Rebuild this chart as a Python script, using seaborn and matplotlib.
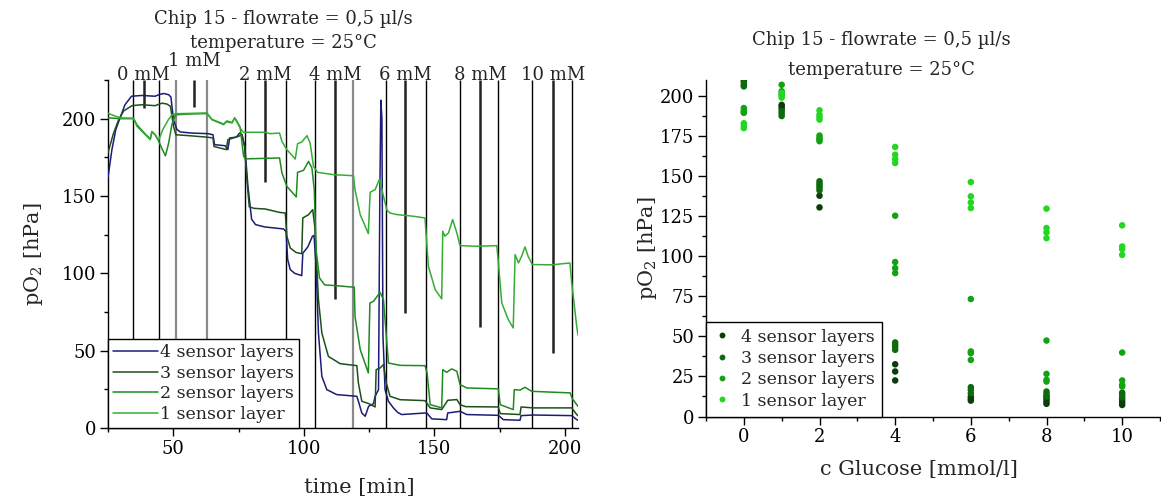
"""
Chip 15 oxygen traces over time and pO2 against glucose concentration.
"""
import matplotlib
matplotlib.use("Agg")
import matplotlib.pyplot as plt
from matplotlib.ticker import MultipleLocator
import pandas as pd
import seaborn as sns

sns.set_theme(style="ticks")
plt.rcParams["font.family"] = ["DejaVu Serif"]
plt.rcParams["mathtext.fontset"] = "dejavuserif"

# ---- left panel: pO2 traces (time in min, pO2 in hPa) ----
series_names = ["4 sensor layers", "3 sensor layers", "2 sensor layers", "1 sensor layer"]
line_colors = ["#1c1c78", "#1d4f1d", "#1f8a1f", "#35ad35"]

t_4 = [25, 26.5, 28, 29.5, 31.5, 34, 38, 43, 44.5, 46.3, 48.2, 49.1, 50.1, 51.4, 52.7, 57, 63.3,
       65.2, 65.8, 69.9, 70.9, 71.6, 74.2, 75.4, 76.3, 77.4, 78.6, 80, 81.5, 85, 92.2, 93.2, 93.8,
       94.8, 96.5, 99.2, 99.6, 101.5, 103.3, 103.9, 104.7, 105.6, 106.9, 108.8, 112.6, 120.3, 120.9,
       122.2, 123.5, 124.8, 126.7, 127.3, 128.6, 129.1, 129.5, 129.9, 130.3, 131.1, 132.4, 134.3,
       136, 137.5, 146.4, 147.2, 149, 154.7, 155.1, 159.8, 162.4, 174.5, 176.4, 182.8, 183.2, 187.9,
       202.6, 204.5, 205]
v_4 = [162, 180, 193, 200, 209, 214.5, 215, 214.5, 215.5, 216.3, 215.5, 214, 199, 193, 191.4, 190.7,
       190.3, 189.6, 183.2, 182.5, 180, 187.5, 188.1, 190.7, 189.6, 182, 156, 135, 131.5, 130, 128.7,
       127, 109, 102.4, 100, 98.5, 113, 117, 124, 124.5, 104.5, 61.4, 33.4, 24.8, 21.6, 20.5, 17.3,
       9.7, 7.6, 14, 15.8, 20.5, 24.8, 150, 212, 200, 60, 24.8, 17.3, 13, 10, 8.7, 9.7, 9.5, 5.9,
       5.4, 9.7, 10.8, 8.7, 8.2, 5.4, 5, 8, 8.4, 8, 5.4, 5]

t_3 = [25, 27, 29, 31, 34.2, 38, 43, 45.7, 47.5, 48.9, 50.1, 51, 56, 63.3, 65.2, 65.6, 70.3, 70.9,
       75, 76.3, 77.3, 78.2, 79.1, 81, 85.2, 90.7, 92.9, 93.5, 94.8, 97, 99.2, 99.6, 101.8, 103.4,
       104.2, 105.6, 106.9, 109.4, 113.9, 120.3, 120.9, 122.2, 124.8, 127.3, 127.7, 129.2, 130.5,
       131.6, 133, 136.9, 146.4, 148.4, 152.8, 155.1, 158.6, 159.8, 162, 174.5, 175.2, 182.8, 183.2,
       187.9, 202.6, 204.5, 205]
v_3 = [178, 190, 199, 205, 208.4, 209, 208.4, 210, 209.5, 208, 195, 189.6, 189, 188, 187.5, 182, 180,
       186.4, 188.6, 189.6, 182, 160.6, 143, 142, 141.6, 139.4, 139, 124, 116.4, 113.5, 112.7, 135.8,
       137.9, 141.2, 130, 83, 61.4, 46.3, 41.6, 40.3, 29, 17.3, 15.8, 13.6, 37.7, 38.8, 41, 29, 20.5,
       18.3, 17.7, 13, 11.9, 17.9, 18.4, 15.1, 13.8, 13.6, 9.3, 8.7, 13.6, 13, 13, 8.7, 8]

t_2 = [25, 30, 34.8, 36.1, 39.3, 41.2, 41.8, 43.1, 44.4, 45.7, 47, 48.2, 49.5, 50.8, 56, 62.9, 64.8,
       69.3, 70.5, 72.5, 73.5, 74.3, 75.6, 76.9, 77.5, 90.7, 91.6, 93.5, 97.1, 97.6, 99.9, 101.8,
       103.1, 104, 104.7, 106, 108, 112.6, 119.3, 119.6, 121.6, 124.7, 125.3, 126.7, 129.2, 130.5,
       132.4, 136.9, 146.4, 147.2, 148.4, 152.8, 153.2, 154.7, 156.6, 158.6, 159.8, 162.4, 174.5,
       175.2, 180.2, 180.6, 182.8, 184.7, 187.3, 202, 202.8, 205]
v_2 = [200.5, 200, 200, 196, 190, 187, 191.5, 189.5, 185.5, 180.5, 176, 184, 196.5, 202.5, 203, 203.3,
       199.5, 196.5, 198.5, 197.5, 200.5, 198.5, 194.5, 176, 174, 174.6, 165, 156.2, 149.4, 165.3,
       166.6, 172.4, 168.1, 154, 115, 97, 92.5, 92, 91, 72.2, 50.7, 35.6, 80.8, 82, 87.7, 83, 42,
       40.5, 40.3, 35.6, 15.1, 13, 37.7, 36, 38.2, 36.7, 28.1, 25.9, 25.3, 15.1, 11.9, 24.8, 24.5,
       26.3, 23.7, 22.7, 19, 14]

t_1 = [25, 28, 30, 34.8, 36.1, 39.3, 41.2, 41.8, 43.1, 44.4, 46, 48, 49.5, 50.8, 56, 62.9, 64.8,
       69.3, 70.3, 72.5, 73.5, 74.3, 75.6, 76.9, 85.2, 87.1, 90.7, 91.6, 93.5, 96.7, 97.6, 99.2,
       101.2, 102.4, 103.7, 105.2, 111.4, 119, 119.6, 121.6, 124.7, 125.4, 127.3, 129, 130.5, 131.8,
       133, 135.6, 142, 146.4, 146.8, 147.7, 150.3, 152.8, 153.2, 154, 155.4, 157, 158.6, 159.8,
       166.2, 173.9, 174.4, 175.8, 178.3, 180.2, 180.9, 182.2, 183.4, 184.7, 185.9, 187.5, 195,
       201.9, 202.6, 204.5, 205]
v_1 = [203.5, 201.5, 200.5, 200.3, 195, 189.6, 186.4, 191.8, 189.6, 186, 193, 199, 202.5, 203.2,
       203.4, 203.7, 199.3, 196.1, 198, 197.2, 200.4, 198, 194, 191.2, 191.2, 190.3, 190.7, 185.3,
       180, 173.9, 183.8, 184.9, 189, 184.3, 169.2, 165.3, 163.8, 163.1, 154.1, 137.9, 125.7, 152.4,
       154.1, 161, 149.8, 141, 139, 138, 136.9, 135.8, 126.1, 104.6, 89.5, 83.5, 127.2, 124, 126.1,
       134.8, 126.1, 117.9, 117.5, 117.9, 108.9, 80.9, 70.1, 64.7, 112.1, 106.7, 111, 117.1, 111,
       105.7, 105.5, 106.7, 93.8, 65.8, 60]

# phase boundaries (min); gray ones are drawn lighter
phase_lines = [34.4, 44.5, 77.3, 93.0, 104.3, 131.5, 146.7, 159.9, 174.5, 187.3, 202.6]
phase_lines_gray = [51.1, 63.1, 119.0]
conc_labels = ["0 mM", "1 mM", "2 mM", "4 mM", "6 mM", "8 mM", "10 mM"]
conc_marker_t = [38.6, 57.9, 85.3, 112.0, 138.9, 167.5, 195.3]
conc_marker_end = [207, 207.5, 158.8, 83.5, 74.4, 65, 48.7]

# ---- right panel: pO2 against glucose concentration ----
point_colors = ["#0b3d0b", "#0d6b0d", "#12a212", "#22d622"]
glucose_4 = [0, 0, 1, 1, 1, 2, 2, 4, 4, 4, 6, 6, 6, 8, 8, 8, 8, 10, 10, 10]
po2_4 = [209.5, 207, 194.5, 193.5, 192, 137.8, 130.5, 32.6, 28.1, 22.5, 12.4, 11, 9.9,
         12.4, 10.8, 9.3, 7.9, 10.4, 8.7, 7.2]
glucose_3 = [0, 0, 1, 1, 1, 2, 2, 2, 2, 2, 4, 4, 4, 4, 6, 6, 6, 8, 8, 8, 10, 10, 10]
po2_3 = [208.5, 206, 190.5, 189, 187.5, 146.8, 145.3, 144, 142.6, 141.1, 46.2, 44.7, 43.3, 41.6,
         18.3, 16.6, 14.5, 15.6, 14.1, 12.4, 14.9, 13.5, 12]
glucose_2 = [0, 0, 0, 0, 1, 1, 1, 2, 2, 2, 2, 4, 4, 4, 4, 6, 6, 6, 6, 8, 8, 8, 8, 10, 10, 10, 10]
po2_2 = [192.5, 191, 190, 189.5, 207, 203, 201, 175.3, 173.8, 172.8, 171.8, 125.3, 96.4, 92.6, 89.5,
         73.3, 40.6, 39.5, 35.3, 47.4, 26.6, 22.9, 21.8, 39.9, 22.5, 19.7, 18.7]
glucose_1 = [0, 0, 0, 1, 1, 1, 2, 2, 2, 2, 4, 4, 4, 4, 6, 6, 6, 6, 8, 8, 8, 8, 10, 10, 10, 10]
po2_1 = [183, 181.5, 180, 202, 200, 199, 191.1, 188.4, 187, 185.3, 168.2, 163.4, 160.7, 158.2,
         146.3, 137.4, 133.6, 130.1, 129.7, 117.6, 114.9, 111.3, 119.3, 106.1, 104.5, 100.9]

title_lines = "Chip 15 - flowrate = 0,5 µl/s\ntemperature = 25°C"

traces = pd.concat([
    pd.DataFrame({"time": t, "pO2": v, "series": name})
    for t, v, name in zip([t_4, t_3, t_2, t_1], [v_4, v_3, v_2, v_1], series_names)
])
points = pd.concat([
    pd.DataFrame({"glucose": g, "pO2": p, "series": name})
    for g, p, name in zip([glucose_4, glucose_3, glucose_2, glucose_1],
                          [po2_4, po2_3, po2_2, po2_1], series_names)
])

W, H = 1161, 497
fig = plt.figure(figsize=(W / 100, H / 100), dpi=100)
ax1 = fig.add_axes([108 / W, 1 - 428 / H, 470 / W, 348 / H])
ax2 = fig.add_axes([706 / W, 1 - 416.5 / H, 454 / W, 336.5 / H])

# left panel
ax1.vlines(phase_lines, 0, 225, colors="black", linewidth=1.0, zorder=1)
ax1.vlines(phase_lines_gray, 0, 225, colors="#8a8a8a", linewidth=1.6, zorder=1)
ax1.vlines(conc_marker_t, conc_marker_end, 225, colors="#222222", linewidth=1.8, zorder=1)
sns.lineplot(data=traces, x="time", y="pO2", hue="series", palette=line_colors,
             estimator=None, sort=False, linewidth=1.1, ax=ax1, zorder=3)
for t, lab in zip(conc_marker_t, conc_labels):
    y = 231.5 if lab == "1 mM" else 222.5
    ax1.text(t, y, lab, ha="center", va="bottom", fontsize=13, clip_on=False)
ax1.set_xlim(25, 205)
ax1.set_ylim(0, 225)
ax1.xaxis.set_major_locator(MultipleLocator(50))
ax1.xaxis.set_minor_locator(MultipleLocator(25))
ax1.yaxis.set_major_locator(MultipleLocator(50))
ax1.yaxis.set_minor_locator(MultipleLocator(25))
ax1.set_xlabel("time [min]", fontsize=15)
ax1.set_ylabel("pO$_2$ [hPa]", fontsize=15)
ax1.xaxis.set_label_coords(0.535, -0.145)
ax1.yaxis.set_label_coords(-0.135, 0.5)
leg1 = ax1.legend(loc="lower left", borderaxespad=0, fontsize=12.5, handlelength=2.6,
                  handletextpad=0.1, labelspacing=0.2, fancybox=False, framealpha=1,
                  edgecolor="black", borderpad=0.3)
leg1.get_frame().set_linewidth(1.0)
fig.text(283 / W, 1 - 31 / H, title_lines, ha="center", va="center", fontsize=13,
         linespacing=1.5)

# right panel
sns.scatterplot(data=points, x="glucose", y="pO2", hue="series", palette=point_colors,
                s=22, linewidth=0, ax=ax2)
ax2.set_xlim(-1, 11)
ax2.set_ylim(0, 210)
ax2.xaxis.set_major_locator(MultipleLocator(2))
ax2.xaxis.set_minor_locator(MultipleLocator(1))
ax2.yaxis.set_major_locator(MultipleLocator(25))
ax2.yaxis.set_minor_locator(MultipleLocator(12.5))
ax2.set_xlabel("c Glucose [mmol/l]", fontsize=15)
ax2.set_ylabel("pO$_2$ [hPa]", fontsize=15)
ax2.xaxis.set_label_coords(0.47, -0.13)
ax2.yaxis.set_label_coords(-0.104, 0.5)
leg2 = ax2.legend(loc="lower left", borderaxespad=0, fontsize=12.5, handlelength=1.0,
                  handletextpad=0.6, labelspacing=0.25, fancybox=False, framealpha=1,
                  edgecolor="black", borderpad=0.4, markerscale=0.9)
leg2.get_frame().set_linewidth(1.0)
fig.text(881 / W, 1 - 55 / H, title_lines, ha="center", va="center", fontsize=13,
         linespacing=1.9)

for ax in (ax1, ax2):
    sns.despine(ax=ax)
    for side in ("left", "bottom"):
        ax.spines[side].set_color("black")
        ax.spines[side].set_linewidth(1.0)
    ax.tick_params(which="major", direction="out", length=6, width=1, color="black",
                   labelsize=13, labelcolor="black", pad=2.5)
    ax.tick_params(which="minor", direction="out", length=3, width=1, color="black")

fig.savefig("out.png", dpi=100)
